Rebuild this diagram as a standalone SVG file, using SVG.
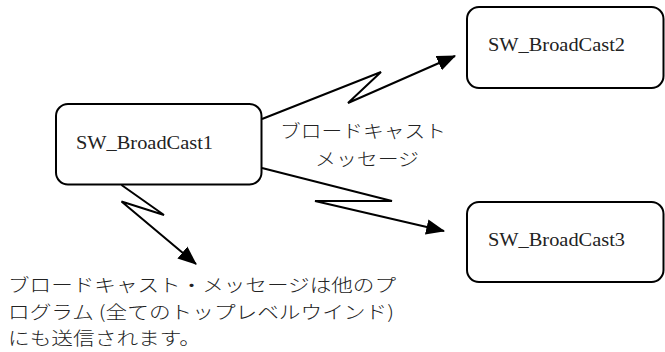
<svg xmlns="http://www.w3.org/2000/svg" width="665" height="352" viewBox="0 0 665 352">
<style>
.box{fill:#fff;stroke:#000;stroke-width:2}
.lat{font-family:"Liberation Serif","Noto Sans CJK JP",serif;font-size:19px;fill:#222}
.jp{font-family:"Noto Sans CJK JP",sans-serif;font-size:18px;fill:#222;font-weight:300}
.conn{fill:none;stroke:#000;stroke-width:2;stroke-linejoin:miter}
</style>
<defs>
<marker id="ah" markerUnits="userSpaceOnUse" markerWidth="20" markerHeight="16" viewBox="0 0 18 14" refX="16" refY="7" orient="auto">
<path d="M0,0 L17,7 L0,14 Z" fill="#000"/>
</marker>
</defs>
<rect width="665" height="352" fill="#fff"/>
<g id="connectors">
<polyline class="conn" points="262,119 381,72 348,103 455,56" marker-end="url(#ah)"/>
<polyline class="conn" points="262,168 392,201 315,201 444,231" marker-end="url(#ah)"/>
<polyline class="conn" points="121.5,185 164,215 121.5,201.5 196,264" marker-end="url(#ah)"/>
</g>
<g id="node1">
<rect class="box" x="56" y="104" width="205.5" height="80.5" rx="12"/>
<text class="lat" x="76" y="148.5" textLength="137" lengthAdjust="spacingAndGlyphs">SW_BroadCast1</text>
</g>
<g id="node2">
<rect class="box" x="467" y="7" width="196.5" height="81" rx="12"/>
<text class="lat" x="488" y="51" textLength="137" lengthAdjust="spacingAndGlyphs">SW_BroadCast2</text>
</g>
<g id="node3">
<rect class="box" x="467" y="202" width="196.5" height="80" rx="12"/>
<text class="lat" x="488" y="246" textLength="137" lengthAdjust="spacingAndGlyphs">SW_BroadCast3</text>
</g>
<g id="label-broadcast">
<text class="jp" x="280" y="138" textLength="166" lengthAdjust="spacingAndGlyphs">ブロードキャスト</text>
<text class="jp" x="315" y="166" textLength="104" lengthAdjust="spacingAndGlyphs">メッセージ</text>
</g>
<g id="label-note">
<text class="jp" x="8" y="292" textLength="388" lengthAdjust="spacingAndGlyphs">ブロードキャスト・メッセージは他のプ</text>
<text class="jp" x="8" y="318.5" textLength="386" lengthAdjust="spacingAndGlyphs">ログラム (全てのトップレベルウインド)</text>
<text class="jp" x="8" y="345" textLength="193" lengthAdjust="spacingAndGlyphs">にも送信されます。</text>
</g>
</svg>
